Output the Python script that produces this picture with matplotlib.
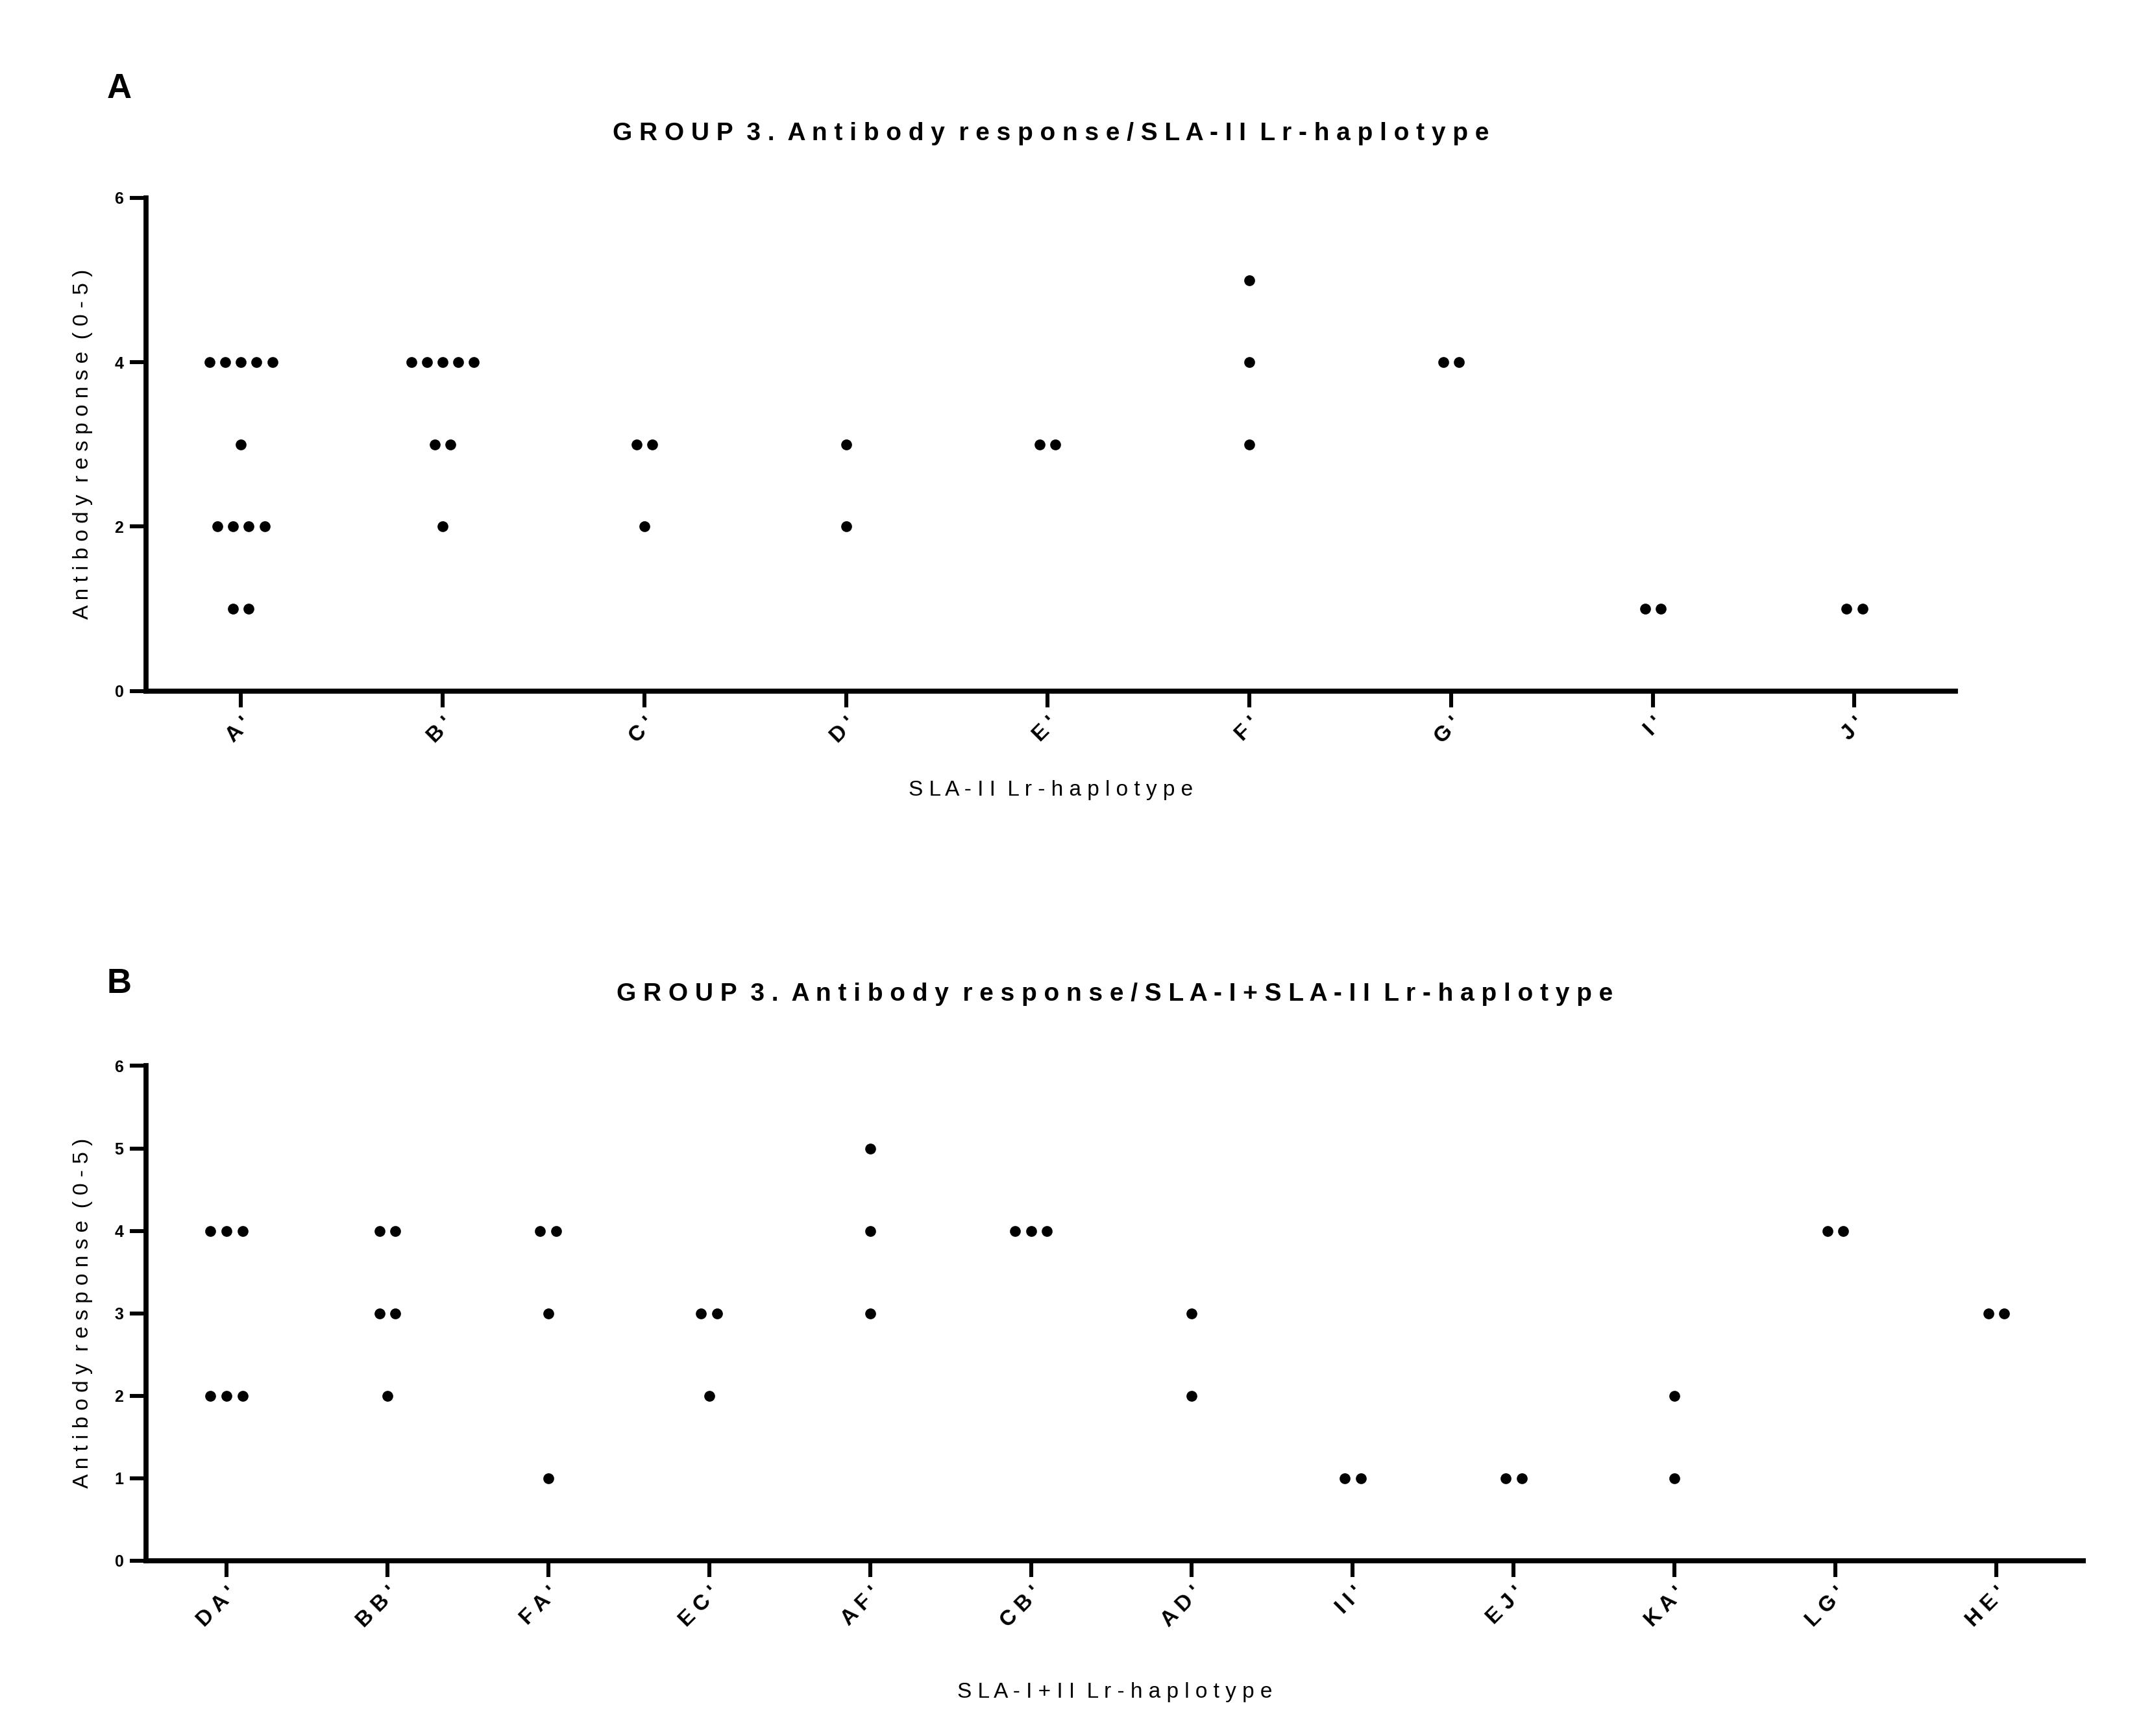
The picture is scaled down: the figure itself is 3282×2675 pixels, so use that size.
import matplotlib
matplotlib.use("Agg")
import matplotlib.pyplot as plt
import numpy as np

matplotlib.rcParams['font.family'] = ['Liberation Sans', 'DejaVu Sans']
matplotlib.rcParams['font.weight'] = 'bold'

# panel A: SLA-II haplotypes
cats_a = ["A'", "B'", "C'", "D'", "E'", "F'", "G'", "I'", "J'"]
vals_a = [
    [4, 4, 4, 4, 4, 3, 2, 2, 2, 2, 1, 1],
    [4, 4, 4, 4, 4, 3, 3, 2],
    [3, 3, 2],
    [3, 2],
    [3, 3],
    [5, 4, 3],
    [4, 4],
    [1, 1],
    [1, 1],
]

# panel B: SLA-I + SLA-II haplotypes
cats_b = ["DA'", "BB'", "FA'", "EC'", "AF'", "CB'", "AD'", "II'", "EJ'", "KA'", "LG'", "HE'"]
vals_b = [
    [4, 4, 4, 2, 2, 2],
    [4, 4, 3, 3, 2],
    [4, 4, 3, 1],
    [3, 3, 2],
    [5, 4, 3],
    [4, 4, 4],
    [3, 2],
    [1, 1],
    [1, 1],
    [2, 1],
    [4, 4],
    [3, 3],
]


def spaced(s):
    return " ".join(s).replace("   ", "  ")


def dot_plot(ax, cats, vals, step):
    for i, v in enumerate(vals):
        v = np.array(v)
        for y in np.unique(v):
            n = np.sum(v == y)
            xs = i + (np.arange(n) - (n - 1) / 2) * step
            ax.plot(xs, [y] * n, 'o', color='black', markersize=5, clip_on=False)
    ax.set_xticks(range(len(cats)))
    ax.set_xticklabels([spaced(c) for c in cats], rotation=45, ha='right',
                       rotation_mode='anchor', fontsize=12)
    for s in ['top', 'right']:
        ax.spines[s].set_visible(False)
    for s in ['left', 'bottom']:
        ax.spines[s].set_linewidth(2.8)
    ax.tick_params(width=2.2, length=9, labelsize=9)
    ax.tick_params(axis='x', labelsize=12)
    ax.set_ylabel(spaced("Antibody response (0-5)"), fontsize=12, labelpad=12)


fig = plt.figure(figsize=(16.41, 13.375), dpi=200)

ax1 = fig.add_axes([0.0686, 0.602, 0.918 - 0.0686, 0.284])
dot_plot(ax1, cats_a, vals_a, 0.078)
ax1.set_xlim(-0.47, 8.5)
ax1.set_ylim(0, 6)
ax1.set_yticks([0, 2, 4, 6])
ax1.set_xlabel(spaced("SLA-II Lr-haplotype"), fontsize=12, labelpad=18)
ax1.set_title(spaced("GROUP 3. Antibody response/SLA-II Lr-haplotype"), fontsize=14,
              fontweight='bold', pad=32)

ax2 = fig.add_axes([0.0686, 0.101, 0.978 - 0.0686, 0.285])
dot_plot(ax2, cats_b, vals_b, 0.1)
ax2.set_xlim(-0.5, 11.54)
ax2.set_ylim(0, 6)
ax2.set_yticks(range(7))
ax2.set_xlabel(spaced("SLA-I+II Lr-haplotype"), fontsize=12, labelpad=28)
ax2.set_title(spaced("GROUP 3. Antibody response/SLA-I+SLA-II Lr-haplotype"), fontsize=14,
              fontweight='bold', pad=36)

fig.text(165 / 3282, 1 - 137 / 2675, "A", fontsize=19, fontweight='bold', va='center')
fig.text(165 / 3282, 1 - 1516 / 2675, "B", fontsize=19, fontweight='bold', va='center')

fig.savefig("out.png", dpi=200)
